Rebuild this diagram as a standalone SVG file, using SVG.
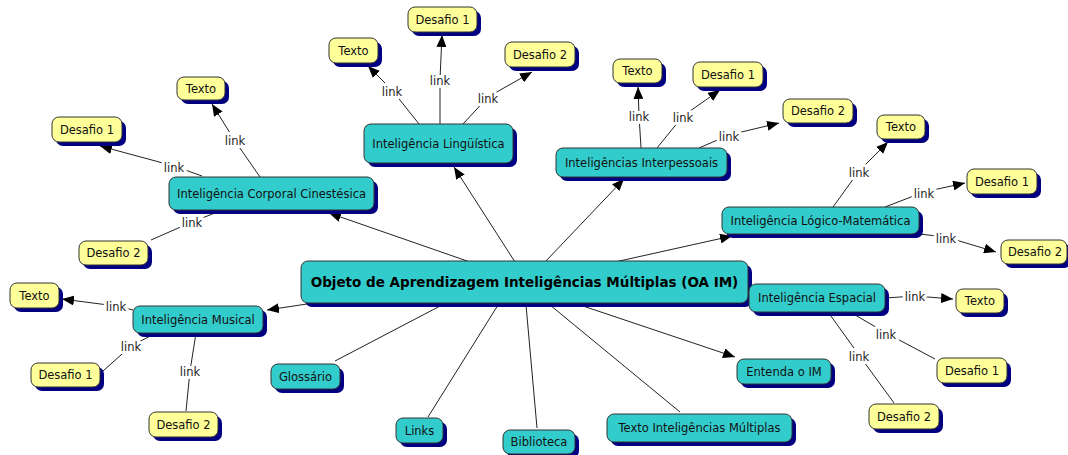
<svg xmlns="http://www.w3.org/2000/svg" width="1068" height="455" viewBox="0 0 1068 455">
<defs>
<marker id="arr" markerWidth="12" markerHeight="10" refX="12" refY="5" orient="auto" markerUnits="userSpaceOnUse"><path d="M0,0 L12,5 L0,10 z" fill="#000"/></marker>
<style>
.c{fill:none;stroke:#222;stroke-width:1}
.a{marker-end:url(#arr)}
.lbl{font-family:"DejaVu Sans",Verdana,sans-serif;font-size:11.5px;fill:#222;text-anchor:middle;stroke:#fff;stroke-width:6;stroke-linejoin:round;paint-order:stroke}
.sh{fill:#000080}
.t{fill:#33CCCC;stroke:#333;stroke-width:1}
.y{fill:#FFFF99;stroke:#333;stroke-width:1}
.tx{font-family:"DejaVu Sans",Verdana,sans-serif;font-size:11.5px;fill:#111;text-anchor:middle}
.bt{font-family:"DejaVu Sans",Verdana,sans-serif;font-size:13.5px;font-weight:bold;fill:#000;text-anchor:middle}
</style>
</defs>
<rect width="1068" height="455" fill="#fff"/>
<g id="connectors">
<!-- center -->
<line class="c a" x1="470" y1="262" x2="329" y2="213"/>
<line class="c a" x1="515" y1="262" x2="454" y2="167"/>
<line class="c a" x1="545" y1="262" x2="624" y2="179"/>
<line class="c a" x1="615" y1="262" x2="732" y2="236"/>
<line class="c a" x1="307" y1="304" x2="267" y2="310"/>
<line class="c" x1="442" y1="305" x2="335" y2="361"/>
<line class="c" x1="498" y1="305" x2="428" y2="417"/>
<line class="c" x1="526" y1="305" x2="537" y2="428"/>
<line class="c" x1="550" y1="305" x2="680" y2="412"/>
<line class="c a" x1="580" y1="305" x2="735" y2="357"/>
<!-- corporal -->
<polyline class="c a" points="260,177 235,141 212,104"/>
<polyline class="c a" points="202,176 174,166 100,146"/>
<polyline class="c" points="220,211 192,222 151,240"/>
<!-- linguistica -->
<polyline class="c a" points="419,124 392,90 368,66"/>
<polyline class="c a" points="440,124 440,79 442,35"/>
<polyline class="c a" points="463,124 488,97 532,72"/>
<!-- interpessoais -->
<polyline class="c a" points="641,148 639,115 638,87"/>
<polyline class="c a" points="657,148 683,116 720,90"/>
<polyline class="c a" points="699,148 729,135 779,123"/>
<!-- logico-matematica -->
<polyline class="c a" points="833,207 859,171 888,142"/>
<polyline class="c a" points="885,207 924,192 965,183"/>
<polyline class="c a" points="919,234 946,237 996,252"/>
<!-- espacial -->
<polyline class="c a" points="885,298 915,296 953,299"/>
<polyline class="c" points="850,312 886,333 935,359"/>
<polyline class="c" points="828,312 859,355 894,403"/>
<!-- musical -->
<polyline class="c a" points="133,310 116,306 62,299"/>
<polyline class="c" points="156,333 131,346 103,371"/>
<polyline class="c" points="196,333 190,371 186,411"/>
<!-- labels -->
<text class="lbl" x="235" y="145">link</text>
<text class="lbl" x="174" y="172">link</text>
<text class="lbl" x="192" y="227">link</text>
<text class="lbl" x="392" y="96">link</text>
<text class="lbl" x="440" y="85">link</text>
<text class="lbl" x="488" y="103">link</text>
<text class="lbl" x="639" y="121">link</text>
<text class="lbl" x="683" y="122">link</text>
<text class="lbl" x="729" y="141">link</text>
<text class="lbl" x="859" y="177">link</text>
<text class="lbl" x="924" y="198">link</text>
<text class="lbl" x="946" y="243">link</text>
<text class="lbl" x="915" y="301">link</text>
<text class="lbl" x="886" y="339">link</text>
<text class="lbl" x="859" y="361">link</text>
<text class="lbl" x="116" y="311">link</text>
<text class="lbl" x="131" y="351">link</text>
<text class="lbl" x="190" y="376">link</text>
</g>
<g id="n-center"><rect class="sh" x="305" y="265" width="447" height="42" rx="7"/><rect class="t" x="301" y="261" width="447" height="42" rx="7"/><text class="bt" x="524.5" y="287">Objeto de Aprendizagem Inteligências Múltiplas (OA IM)</text></g>
<g id="n-corporal"><rect class="sh" x="173" y="181" width="205" height="33" rx="7"/><rect class="t" x="169" y="177" width="205" height="33" rx="7"/><text class="tx" x="271.5" y="197.5">Inteligência Corporal Cinestésica</text></g>
<g id="n-linguistica"><rect class="sh" x="368" y="128" width="149" height="39" rx="7"/><rect class="t" x="364" y="124" width="149" height="39" rx="7"/><text class="tx" x="438.5" y="147.5">Inteligência Lingüística</text></g>
<g id="n-interpessoais"><rect class="sh" x="560" y="152" width="171" height="29" rx="7"/><rect class="t" x="556" y="148" width="171" height="29" rx="7"/><text class="tx" x="641.5" y="166.5">Inteligências Interpessoais</text></g>
<g id="n-logico"><rect class="sh" x="726" y="211" width="197" height="27" rx="7"/><rect class="t" x="722" y="207" width="197" height="27" rx="7"/><text class="tx" x="820.5" y="224.5">Inteligência Lógico-Matemática</text></g>
<g id="n-espacial"><rect class="sh" x="753" y="288" width="136" height="28" rx="7"/><rect class="t" x="749" y="284" width="136" height="28" rx="7"/><text class="tx" x="817" y="302">Inteligência Espacial</text></g>
<g id="n-musical"><rect class="sh" x="137" y="310" width="130" height="27" rx="7"/><rect class="t" x="133" y="306" width="130" height="27" rx="7"/><text class="tx" x="198" y="323.5">Inteligência Musical</text></g>
<g id="n-glossario"><rect class="sh" x="275" y="368" width="69" height="25" rx="7"/><rect class="t" x="271" y="364" width="69" height="25" rx="7"/><text class="tx" x="305.5" y="380.5">Glossário</text></g>
<g id="n-links"><rect class="sh" x="400" y="422" width="47" height="25" rx="7"/><rect class="t" x="396" y="418" width="47" height="25" rx="7"/><text class="tx" x="419.5" y="434.5">Links</text></g>
<g id="n-biblioteca"><rect class="sh" x="507" y="434" width="72" height="24" rx="7"/><rect class="t" x="503" y="430" width="72" height="24" rx="7"/><text class="tx" x="539" y="446">Biblioteca</text></g>
<g id="n-textoim"><rect class="sh" x="611" y="418" width="185" height="28" rx="7"/><rect class="t" x="607" y="414" width="185" height="28" rx="7"/><text class="tx" x="699.5" y="432">Texto Inteligências Múltiplas</text></g>
<g id="n-entenda"><rect class="sh" x="741" y="363" width="94" height="25" rx="7"/><rect class="t" x="737" y="359" width="94" height="25" rx="7"/><text class="tx" x="784" y="375.5">Entenda o IM</text></g>
<g id="n-c-texto"><rect class="sh" x="181" y="81" width="48" height="23" rx="7"/><rect class="y" x="177" y="77" width="48" height="23" rx="7"/><text class="tx" x="201" y="92.5">Texto</text></g>
<g id="n-c-des1"><rect class="sh" x="56" y="121" width="70" height="25" rx="7"/><rect class="y" x="52" y="117" width="70" height="25" rx="7"/><text class="tx" x="87" y="133.5">Desafio 1</text></g>
<g id="n-c-des2"><rect class="sh" x="83" y="245" width="69" height="24" rx="7"/><rect class="y" x="79" y="241" width="69" height="24" rx="7"/><text class="tx" x="113.5" y="257">Desafio 2</text></g>
<g id="n-l-texto"><rect class="sh" x="333" y="42" width="49" height="25" rx="7"/><rect class="y" x="329" y="38" width="49" height="25" rx="7"/><text class="tx" x="353.5" y="54.5">Texto</text></g>
<g id="n-l-des1"><rect class="sh" x="412" y="11" width="69" height="25" rx="7"/><rect class="y" x="408" y="7" width="69" height="25" rx="7"/><text class="tx" x="442.5" y="23.5">Desafio 1</text></g>
<g id="n-l-des2"><rect class="sh" x="509" y="46" width="70" height="25" rx="7"/><rect class="y" x="505" y="42" width="70" height="25" rx="7"/><text class="tx" x="540" y="58.5">Desafio 2</text></g>
<g id="n-i-texto"><rect class="sh" x="617" y="63" width="49" height="24" rx="7"/><rect class="y" x="613" y="59" width="49" height="24" rx="7"/><text class="tx" x="637.5" y="75">Texto</text></g>
<g id="n-i-des1"><rect class="sh" x="697" y="66" width="70" height="25" rx="7"/><rect class="y" x="693" y="62" width="70" height="25" rx="7"/><text class="tx" x="728" y="78.5">Desafio 1</text></g>
<g id="n-i-des2"><rect class="sh" x="787" y="103" width="70" height="24" rx="7"/><rect class="y" x="783" y="99" width="70" height="24" rx="7"/><text class="tx" x="818" y="115">Desafio 2</text></g>
<g id="n-lm-texto"><rect class="sh" x="881" y="119" width="48" height="24" rx="7"/><rect class="y" x="877" y="115" width="48" height="24" rx="7"/><text class="tx" x="901" y="131">Texto</text></g>
<g id="n-lm-des1"><rect class="sh" x="971" y="173" width="70" height="25" rx="7"/><rect class="y" x="967" y="169" width="70" height="25" rx="7"/><text class="tx" x="1002" y="185.5">Desafio 1</text></g>
<g id="n-lm-des2"><rect class="sh" x="1005" y="244" width="66" height="24" rx="7"/><rect class="y" x="1001" y="240" width="66" height="24" rx="7"/><text class="tx" x="1035" y="256">Desafio 2</text></g>
<g id="n-e-texto"><rect class="sh" x="960" y="293" width="48" height="24" rx="7"/><rect class="y" x="956" y="289" width="48" height="24" rx="7"/><text class="tx" x="980" y="305">Texto</text></g>
<g id="n-e-des1"><rect class="sh" x="941" y="362" width="70" height="25" rx="7"/><rect class="y" x="937" y="358" width="70" height="25" rx="7"/><text class="tx" x="972" y="374.5">Desafio 1</text></g>
<g id="n-e-des2"><rect class="sh" x="873" y="408" width="70" height="25" rx="7"/><rect class="y" x="869" y="404" width="70" height="25" rx="7"/><text class="tx" x="904" y="420.5">Desafio 2</text></g>
<g id="n-m-texto"><rect class="sh" x="14" y="287" width="49" height="25" rx="7"/><rect class="y" x="10" y="283" width="49" height="25" rx="7"/><text class="tx" x="34.5" y="299.5">Texto</text></g>
<g id="n-m-des1"><rect class="sh" x="35" y="367" width="69" height="24" rx="7"/><rect class="y" x="31" y="363" width="69" height="24" rx="7"/><text class="tx" x="65.5" y="379">Desafio 1</text></g>
<g id="n-m-des2"><rect class="sh" x="153" y="416" width="69" height="25" rx="7"/><rect class="y" x="149" y="412" width="69" height="25" rx="7"/><text class="tx" x="183.5" y="428.5">Desafio 2</text></g>
</svg>
